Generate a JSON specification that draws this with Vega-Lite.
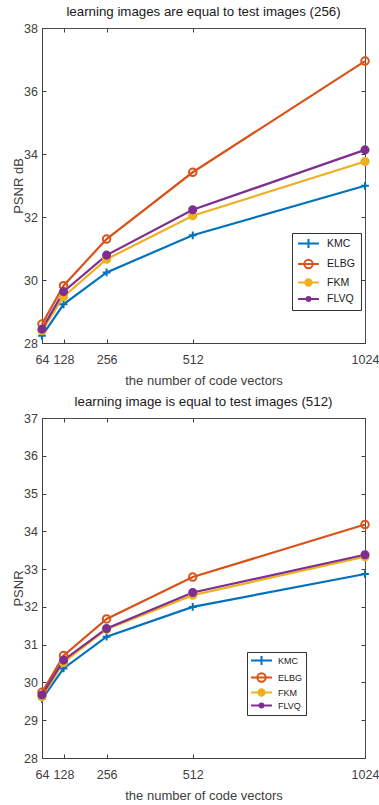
{
  "$schema": "https://vega.github.io/schema/vega-lite/v6.json",
  "padding": {"left": 11, "top": 4, "right": 6, "bottom": 4},
  "background": "white",
  "bounds": "flush",
  "spacing": 75,
  "config": {
    "font": "Liberation Sans",
    "view": {"stroke": "#4d4d4d", "strokeWidth": 1},
    "axis": {
      "grid": false,
      "labelFont": "Liberation Sans",
      "labelFontSize": 12.5,
      "labelColor": "#404040",
      "domainColor": "#404040",
      "tickColor": "#404040",
      "tickSize": -4,
      "titleFont": "Liberation Sans",
      "titleFontSize": 13,
      "titleFontWeight": "normal",
      "titleColor": "#404040"
    },
    "title": {"font": "Liberation Sans", "fontSize": 13.3, "fontWeight": "normal", "color": "#1a1a1a", "offset": 0},
    "legend": {"labelFont": "Liberation Sans", "labelColor": "#1a1a1a"}
  },
  "datasets": {
    "p256": [
      {"n": 64, "series": "KMC", "psnr": 28.23}, {"n": 128, "series": "KMC", "psnr": 29.23}, {"n": 256, "series": "KMC", "psnr": 30.24}, {"n": 512, "series": "KMC", "psnr": 31.42}, {"n": 1024, "series": "KMC", "psnr": 32.99},
      {"n": 64, "series": "ELBG", "psnr": 28.60}, {"n": 128, "series": "ELBG", "psnr": 29.82}, {"n": 256, "series": "ELBG", "psnr": 31.30}, {"n": 512, "series": "ELBG", "psnr": 33.42}, {"n": 1024, "series": "ELBG", "psnr": 36.95},
      {"n": 64, "series": "FKM", "psnr": 28.39}, {"n": 128, "series": "FKM", "psnr": 29.47}, {"n": 256, "series": "FKM", "psnr": 30.66}, {"n": 512, "series": "FKM", "psnr": 32.04}, {"n": 1024, "series": "FKM", "psnr": 33.76},
      {"n": 64, "series": "FLVQ", "psnr": 28.44}, {"n": 128, "series": "FLVQ", "psnr": 29.63}, {"n": 256, "series": "FLVQ", "psnr": 30.79}, {"n": 512, "series": "FLVQ", "psnr": 32.23}, {"n": 1024, "series": "FLVQ", "psnr": 34.13}
    ],
    "p512": [
      {"n": 64, "series": "KMC", "psnr": 29.56}, {"n": 128, "series": "KMC", "psnr": 30.37}, {"n": 256, "series": "KMC", "psnr": 31.21}, {"n": 512, "series": "KMC", "psnr": 32.00}, {"n": 1024, "series": "KMC", "psnr": 32.87},
      {"n": 64, "series": "ELBG", "psnr": 29.74}, {"n": 128, "series": "ELBG", "psnr": 30.71}, {"n": 256, "series": "ELBG", "psnr": 31.68}, {"n": 512, "series": "ELBG", "psnr": 32.79}, {"n": 1024, "series": "ELBG", "psnr": 34.18},
      {"n": 64, "series": "FKM", "psnr": 29.62}, {"n": 128, "series": "FKM", "psnr": 30.53}, {"n": 256, "series": "FKM", "psnr": 31.41}, {"n": 512, "series": "FKM", "psnr": 32.31}, {"n": 1024, "series": "FKM", "psnr": 33.33},
      {"n": 64, "series": "FLVQ", "psnr": 29.67}, {"n": 128, "series": "FLVQ", "psnr": 30.59}, {"n": 256, "series": "FLVQ", "psnr": 31.43}, {"n": 512, "series": "FLVQ", "psnr": 32.38}, {"n": 1024, "series": "FLVQ", "psnr": 33.38}
    ]
  },
  "resolve": {"scale": {"color": "independent"}, "legend": {"color": "independent"}},
  "vconcat": [
    {
      "title": "learning images are equal to test images (256)",
      "width": 323,
      "height": 315,
      "data": {"name": "p256"},
      "resolve": {"scale": {"x": "independent", "y": "independent"}},
      "layer": [
        {
          "mark": {"type": "line", "strokeWidth": 2.2},
          "encoding": {
            "x": {"field": "n", "type": "quantitative", "scale": {"domain": [64, 1024], "nice": false, "zero": false},
                  "axis": {"values": [64, 128, 256, 512, 1024], "format": "d", "title": "the number of code vectors", "labelPadding": 14, "titlePadding": 9, "labelFlush": false}},
            "y": {"field": "psnr", "type": "quantitative", "scale": {"domain": [28, 38], "nice": false, "zero": false},
                  "axis": {"values": [28, 30, 32, 34, 36, 38], "title": "PSNR dB", "labelPadding": 8.5, "titlePadding": -1.7, "labelFlush": false}},
            "color": {"field": "series", "type": "nominal",
                      "scale": {"domain": ["KMC", "ELBG", "FKM", "FLVQ"], "range": ["#0072BD", "#D95319", "#EDB120", "#7E2F8E"]},
                      "legend": {"orient": "none", "legendX": 250, "legendY": 205, "title": null,
                                 "strokeColor": "#333333", "fillColor": "white", "padding": 5,
                                 "labelFontSize": 10.5, "symbolSize": 70, "symbolStrokeWidth": 2,
                                 "symbolOffset": 6, "labelOffset": 13, "rowPadding": 2.5,
                                 "encode": {"symbols": {"update": {
                                   "shape": {"signal": "datum.value === 'KMC' ? 'M-2.5,0L2.5,0M0,-1.1L0,1.1' : datum.value === 'ELBG' ? 'M-2.5,0L2.5,0M-1,0A1,1 0 1,0 1,0A1,1 0 1,0 -1,0' : datum.value === 'FKM' ? 'M-2.5,0L2.5,0M-0.75,0A0.75,0.75 0 1,0 0.75,0A0.75,0.75 0 1,0 -0.75,0' : 'M-2.5,0L2.5,0M-0.45,0A0.45,0.45 0 1,0 0.45,0A0.45,0.45 0 1,0 -0.45,0'"},
                                   "fill": {"signal": "datum.value === 'FKM' ? '#EDB120' : datum.value === 'FLVQ' ? '#7E2F8E' : 'transparent'"}
                                 }}}}}
          }
        },
        {
          "mark": {"type": "point", "strokeWidth": 2, "opacity": 1},
          "encoding": {
            "x": {"field": "n", "type": "quantitative", "scale": {"domain": [64, 1024], "nice": false, "zero": false},
                  "axis": {"orient": "top", "values": [64, 128, 256, 512, 1024], "labels": false, "title": null, "domain": false}},
            "y": {"field": "psnr", "type": "quantitative", "scale": {"domain": [28, 38], "nice": false, "zero": false},
                  "axis": {"orient": "right", "values": [28, 30, 32, 34, 36, 38], "labels": false, "title": null, "domain": false}},
            "stroke": {"field": "series", "type": "nominal", "legend": null,
                       "scale": {"domain": ["KMC", "ELBG", "FKM", "FLVQ"], "range": ["#0072BD", "#D95319", "#EDB120", "#7E2F8E"]}},
            "fill": {"field": "series", "type": "nominal", "legend": null,
                     "scale": {"domain": ["KMC", "ELBG", "FKM", "FLVQ"], "range": ["transparent", "transparent", "#EDB120", "#7E2F8E"]}},
            "shape": {"field": "series", "type": "nominal", "legend": null,
                      "scale": {"domain": ["KMC", "ELBG", "FKM", "FLVQ"], "range": ["M-1,0L1,0M0,-1L0,1", "circle", "circle", "circle"]}},
            "size": {"field": "series", "type": "nominal", "legend": null,
                     "scale": {"domain": ["KMC", "ELBG", "FKM", "FLVQ"], "range": [60, 50, 18, 4]}}
          }
        }
      ]
    },
    {
      "title": "learning image is equal to test images (512)",
      "width": 323,
      "height": 340,
      "data": {"name": "p512"},
      "resolve": {"scale": {"x": "independent", "y": "independent"}},
      "layer": [
        {
          "mark": {"type": "line", "strokeWidth": 2.2},
          "encoding": {
            "x": {"field": "n", "type": "quantitative", "scale": {"domain": [64, 1024], "nice": false, "zero": false},
                  "axis": {"values": [64, 128, 256, 512, 1024], "format": "d", "title": "the number of code vectors", "labelPadding": 14, "titlePadding": 9, "labelFlush": false}},
            "y": {"field": "psnr", "type": "quantitative", "scale": {"domain": [28, 37], "nice": false, "zero": false},
                  "axis": {"values": [28, 29, 30, 31, 32, 33, 34, 35, 36, 37], "title": "PSNR", "labelPadding": 8.5, "titlePadding": -1.7, "labelFlush": false}},
            "color": {"field": "series", "type": "nominal",
                      "scale": {"domain": ["KMC", "ELBG", "FKM", "FLVQ"], "range": ["#0072BD", "#D95319", "#EDB120", "#7E2F8E"]},
                      "legend": {"orient": "none", "legendX": 205, "legendY": 234, "title": null,
                                 "strokeColor": "#333333", "fillColor": "white", "padding": 3,
                                 "labelFontSize": 9, "symbolSize": 70, "symbolStrokeWidth": 2,
                                 "symbolOffset": 6, "labelOffset": 11, "rowPadding": -1,
                                 "encode": {"symbols": {"update": {
                                   "shape": {"signal": "datum.value === 'KMC' ? 'M-2.5,0L2.5,0M0,-1.1L0,1.1' : datum.value === 'ELBG' ? 'M-2.5,0L2.5,0M-1,0A1,1 0 1,0 1,0A1,1 0 1,0 -1,0' : datum.value === 'FKM' ? 'M-2.5,0L2.5,0M-0.75,0A0.75,0.75 0 1,0 0.75,0A0.75,0.75 0 1,0 -0.75,0' : 'M-2.5,0L2.5,0M-0.45,0A0.45,0.45 0 1,0 0.45,0A0.45,0.45 0 1,0 -0.45,0'"},
                                   "fill": {"signal": "datum.value === 'FKM' ? '#EDB120' : datum.value === 'FLVQ' ? '#7E2F8E' : 'transparent'"}
                                 }}}}}
          }
        },
        {
          "mark": {"type": "point", "strokeWidth": 2, "opacity": 1},
          "encoding": {
            "x": {"field": "n", "type": "quantitative", "scale": {"domain": [64, 1024], "nice": false, "zero": false},
                  "axis": {"orient": "top", "values": [64, 128, 256, 512, 1024], "labels": false, "title": null, "domain": false}},
            "y": {"field": "psnr", "type": "quantitative", "scale": {"domain": [28, 37], "nice": false, "zero": false},
                  "axis": {"orient": "right", "values": [28, 29, 30, 31, 32, 33, 34, 35, 36, 37], "labels": false, "title": null, "domain": false}},
            "stroke": {"field": "series", "type": "nominal", "legend": null,
                       "scale": {"domain": ["KMC", "ELBG", "FKM", "FLVQ"], "range": ["#0072BD", "#D95319", "#EDB120", "#7E2F8E"]}},
            "fill": {"field": "series", "type": "nominal", "legend": null,
                     "scale": {"domain": ["KMC", "ELBG", "FKM", "FLVQ"], "range": ["transparent", "transparent", "#EDB120", "#7E2F8E"]}},
            "shape": {"field": "series", "type": "nominal", "legend": null,
                      "scale": {"domain": ["KMC", "ELBG", "FKM", "FLVQ"], "range": ["M-1,0L1,0M0,-1L0,1", "circle", "circle", "circle"]}},
            "size": {"field": "series", "type": "nominal", "legend": null,
                     "scale": {"domain": ["KMC", "ELBG", "FKM", "FLVQ"], "range": [60, 50, 18, 4]}}
          }
        }
      ]
    }
  ]
}
